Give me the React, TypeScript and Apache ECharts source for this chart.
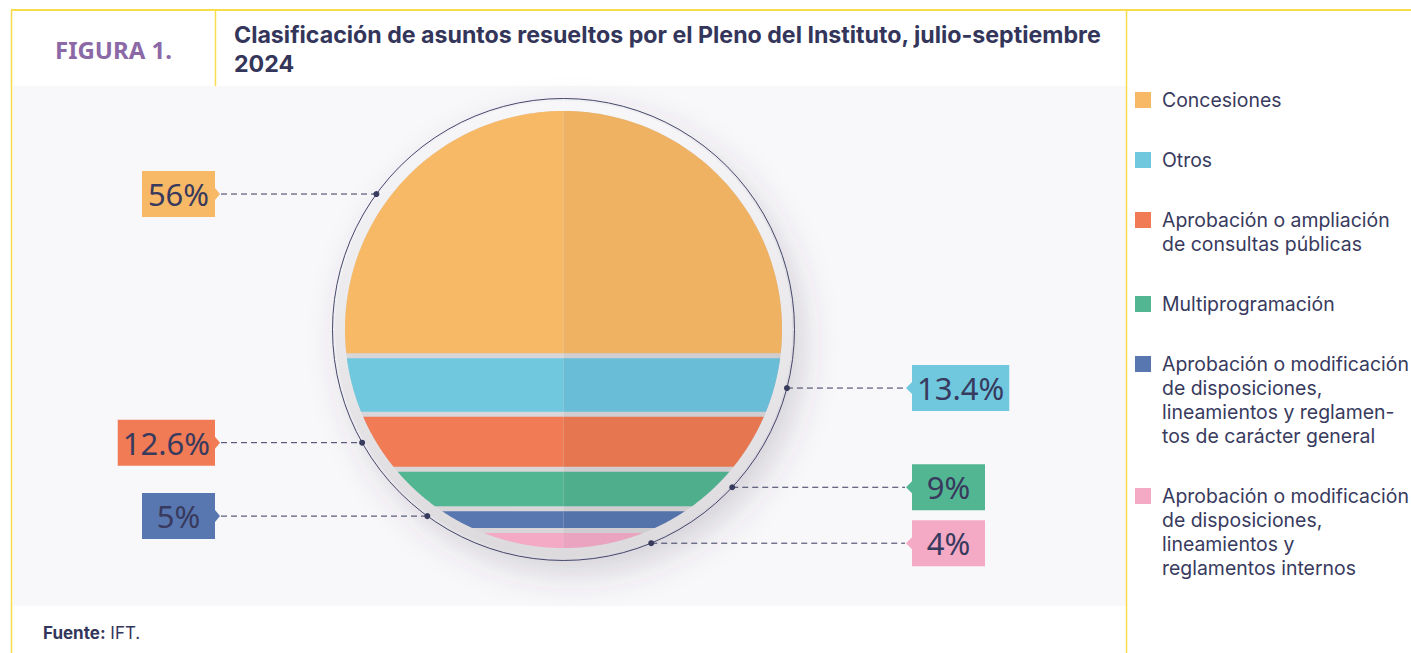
import React, { useEffect, useRef } from 'react';
import * as echarts from 'echarts';

// ---------- data ----------
const categories = [
  'Concesiones',
  'Otros',
  'Aprobación o ampliación\nde consultas públicas',
  'Multiprogramación',
  'Aprobación o modificación\nde disposiciones,\nlineamientos y reglamen-\ntos de carácter general',
  'Aprobación o modificación\nde disposiciones,\nlineamientos y\nreglamentos internos',
];
const values = [56, 13.4, 12.6, 9, 5, 4];
const valueLabels = ['56%', '13.4%', '12.6%', '9%', '5%', '4%'];
const titleLines = ['Clasificación de asuntos resueltos por el Pleno del Instituto, julio-septiembre', '2024'];

// ---------- styles / layout ----------
const colors = ['#f8b966', '#6fc8de', '#f07b55', '#52b692', '#5877b0', '#f4a9c5'];
const shadeColors = ['#efb263', '#69bdd6', '#e67650', '#4fae8b', '#5573ab', '#eba4bf'];
const labelSide = ['left', 'right', 'left', 'right', 'left', 'right'];
const labelAnchor = [19, 63.4, 75.9, 86.1, 92.7, 98.9];
const NAVY = '#383a5e';
const YELLOW = '#f8dc4b';
const FONT = "'Noto Sans', sans-serif";
const UI_FONT = "Inter, 'Noto Sans', sans-serif";

function measure(text: string, font: string): number {
  const c = document.createElement('canvas').getContext('2d');
  if (!c) return text.length * 10;
  c.font = font;
  return c.measureText(text).width;
}

function fitSize(text: string, weight: string, family: string, target: number, maxSize: number) {
  const w = measure(text, `${weight} 20px ${family}`);
  return Math.min(maxSize, (20 * target) / w);
}

function arc(cx: number, cy: number, R: number, ya: number, yb: number, sign: number) {
  const pts: number[][] = [];
  const a0 = Math.asin(Math.max(-1, Math.min(1, (ya - cy) / R)));
  const a1 = Math.asin(Math.max(-1, Math.min(1, (yb - cy) / R)));
  const n = 60;
  for (let k = 0; k <= n; k++) {
    const a = a0 + ((a1 - a0) * k) / n;
    pts.push([cx + sign * R * Math.cos(a), cy + R * Math.sin(a)]);
  }
  return pts;
}

function geom(api: any) {
  const t = api.coord([0, 0]);
  const b = api.coord([0, 100]);
  const cx = t[0];
  const cy = (t[1] + b[1]) / 2;
  const R = (b[1] - t[1]) / 2;
  return { cx, cy, R };
}

export default function App() {
  const ref = useRef<HTMLDivElement>(null);
  useEffect(() => {
    const chart = echarts.init(ref.current!, null, { renderer: 'svg' });

    const cum: number[] = [];
    let acc = 0;
    values.forEach((v) => {
      cum.push(acc);
      acc += v;
    });

    const bgSeries: any = {
      type: 'custom',
      name: 'fondo',
      coordinateSystem: 'cartesian2d',
      data: [[0, 0, 100]],
      encode: { x: 0, y: [1, 2] },
      clip: false,
      silent: true,
      z: 1,
      renderItem: (params: any, api: any) => {
        const { cx, cy, R } = geom(api);
        return {
          type: 'group',
          children: [
            {
              type: 'circle',
              shape: { cx, cy, r: R * 1.046 },
              style: {
                fill: new echarts.graphic.LinearGradient(0, 0, 0, 1, [
                  { offset: 0, color: '#f7f6f9' },
                  { offset: 1, color: '#dcdadd' },
                ]),
                shadowBlur: 36,
                shadowOffsetX: 10,
                shadowOffsetY: 14,
                shadowColor: 'rgba(70,60,85,0.22)',
              },
            },
            {
              type: 'sector',
              shape: { cx, cy, r: R, r0: 0, startAngle: Math.PI / 2, endAngle: (3 * Math.PI) / 2 },
              style: { fill: '#d8d6d9' },
            },
            {
              type: 'sector',
              shape: { cx, cy, r: R, r0: 0, startAngle: -Math.PI / 2, endAngle: Math.PI / 2 },
              style: { fill: '#cfcdd0' },
            },
            {
              type: 'circle',
              shape: { cx, cy, r: (R * 231) / 218.5 },
              style: { fill: 'none', stroke: '#45476a', lineWidth: 1 },
            },
          ],
        };
      },
    };

    const bandSeries = categories.map((name, i) => ({
      type: 'custom',
      name,
      coordinateSystem: 'cartesian2d',
      data: [[0, cum[i], cum[i] + values[i]]],
      encode: { x: 0, y: [1, 2] },
      itemStyle: { color: colors[i] },
      clip: false,
      silent: true,
      z: 2,
      renderItem: (params: any, api: any) => {
        const { cx, cy, R } = geom(api);
        const s = api.value(1);
        const e = api.value(2);
        const gap = 2.5;
        const ya = api.coord([0, s])[1] + (s > 0 ? gap : 0);
        const yb = api.coord([0, e])[1] - (e < 100 ? gap : 0);
        const leftPts = [...arc(cx, cy, R, ya, yb, -1), [cx, yb], [cx, ya]];
        const rightPts = [...arc(cx, cy, R, ya, yb, 1), [cx, yb], [cx, ya]];

        const ay = api.coord([0, labelAnchor[i]])[1];
        const Ro = (R * 231) / 218.5;
        const dy = ay - cy;
        const dx = Math.sqrt(Math.max(0, Ro * Ro - dy * dy));
        const isLeft = labelSide[i] === 'left';
        const dotX = isLeft ? cx - dx : cx + dx;
        const font = `31px ${FONT}`;
        const boxW = Math.max(73, measure(valueLabels[i], font) + 10);
        const boxH = 46;
        const off = (R * 348.5) / 218.5;
        let boxX: number, baseX: number, tipX: number;
        if (isLeft) {
          baseX = cx - off;
          boxX = baseX - boxW;
          tipX = baseX + 5;
        } else {
          baseX = cx + off;
          boxX = baseX;
          tipX = baseX - 6;
        }
        return {
          type: 'group',
          children: [
            { type: 'polygon', shape: { points: leftPts }, style: { fill: colors[i] } },
            { type: 'polygon', shape: { points: rightPts }, style: { fill: shadeColors[i] } },
            {
              type: 'line',
              shape: { x1: isLeft ? tipX + 1 : dotX, y1: ay, x2: isLeft ? dotX : tipX - 1, y2: ay },
              style: { stroke: NAVY, lineWidth: 1, lineDash: [6, 4] },
            },
            { type: 'circle', shape: { cx: dotX, cy: ay, r: 3 }, style: { fill: NAVY } },
            {
              type: 'rect',
              shape: { x: boxX, y: ay - boxH / 2, width: boxW, height: boxH },
              style: { fill: colors[i] },
            },
            {
              type: 'polygon',
              shape: { points: [[baseX, ay - 6], [tipX, ay], [baseX, ay + 6]] },
              style: { fill: colors[i] },
            },
            {
              type: 'text',
              x: boxX + boxW / 2,
              y: ay,
              style: {
                text: valueLabels[i],
                fill: NAVY,
                font,
                align: 'center',
                verticalAlign: 'middle',
                textAlign: 'center',
                textVerticalAlign: 'middle',
              },
            },
          ],
        };
      },
    }));

    const lineH = 24;
    const legendSize = fitSize('Aprobación o modificación', 'normal', UI_FONT, 247, 19.6);
    let top = 88;
    const legends = categories.map((name) => {
      const n = name.split('\n').length;
      const h = n * lineH;
      const l = {
        show: true,
        orient: 'vertical',
        left: 1135,
        top,
        padding: 0,
        itemWidth: 22,
        itemHeight: h,
        selectedMode: false,
        data: [{ name, icon: `path://M0 4h16v16H0Z M22 0L22 ${h}` }],
        itemStyle: { borderWidth: 0 },
        textStyle: { fontSize: legendSize, lineHeight: lineH, color: NAVY, fontFamily: UI_FONT },
      };
      top += h + 36;
      return l;
    });

    const titleSize = fitSize(titleLines[0], 'bold', UI_FONT, 868, 24);
    const titleSep = Math.max(24, Math.ceil(titleSize * 1.22) + 0.5);
    const titleMid = 49.5;

    const mk = (x: number, y: number, text: string, font: string, fill: string, align = 'left') => ({
      type: 'text',
      x,
      y,
      style: {
        text,
        font,
        fill,
        align,
        verticalAlign: 'middle',
        textAlign: align,
        textVerticalAlign: 'middle',
      },
    });

    const graphic = [
      { type: 'rect', shape: { x: 13, y: 86, width: 1113, height: 520 }, style: { fill: '#f8f7fa' }, z: -10 },
      { type: 'line', shape: { x1: 11, y1: 10, x2: 1411, y2: 10 }, style: { stroke: YELLOW, lineWidth: 2 } },
      { type: 'line', shape: { x1: 11.5, y1: 10, x2: 11.5, y2: 653 }, style: { stroke: YELLOW, lineWidth: 1.5 } },
      { type: 'line', shape: { x1: 215.5, y1: 10, x2: 215.5, y2: 86 }, style: { stroke: YELLOW, lineWidth: 1.5 } },
      { type: 'line', shape: { x1: 1126.5, y1: 10, x2: 1126.5, y2: 653 }, style: { stroke: YELLOW, lineWidth: 1.5 } },
      mk(113.5, 49.5, 'FIGURA 1.', `bold 24px ${FONT}`, '#8b68a6', 'center'),
      mk(234, titleMid - titleSep / 2, titleLines[0], `bold ${titleSize}px ${UI_FONT}`, '#33365a'),
      mk(234, titleMid + titleSep / 2, titleLines[1], `bold ${titleSize}px ${UI_FONT}`, '#33365a'),
      {
        type: 'text',
        x: 43,
        y: 632.5,
        style: {
          text: '{b|Fuente:} IFT.',
          font: `17px ${UI_FONT}`,
          fill: '#33365a',
          verticalAlign: 'middle',
          textVerticalAlign: 'middle',
          rich: { b: { fontWeight: 'bold', fontSize: 17, fontFamily: UI_FONT, fill: '#33365a', color: '#33365a' } },
        },
      },
    ];

    chart.setOption({
      animation: false,
      backgroundColor: '#ffffff',
      grid: { left: 345, top: 111, width: 437, height: 437 },
      xAxis: { type: 'value', min: -1, max: 1, show: false },
      yAxis: { type: 'value', min: 0, max: 100, inverse: true, show: false },
      legend: legends,
      graphic,
      series: [bgSeries, ...bandSeries],
    });
    return () => chart.dispose();
  }, []);
  return <div ref={ref} style={{ position: 'absolute', left: 0, top: 0, width: 1411, height: 653 }} />;
}
